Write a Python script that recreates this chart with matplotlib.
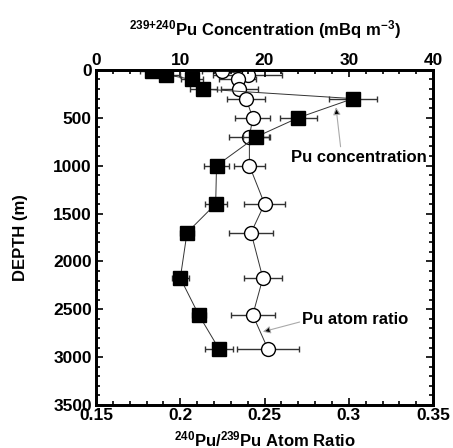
import matplotlib
matplotlib.use("Agg")
import matplotlib.pyplot as plt
from matplotlib.ticker import MultipleLocator

plt.rcParams['font.family'] = ['Liberation Sans', 'DejaVu Sans']
plt.rcParams['font.weight'] = 'bold'
plt.rcParams['mathtext.fontset'] = 'custom'
plt.rcParams['mathtext.bf'] = 'Liberation Sans:bold'
plt.rcParams['mathtext.rm'] = 'Liberation Sans:bold'
plt.rcParams['mathtext.default'] = 'bf'

# Pu concentration (top axis, mBq m-3)
conc_depth = [10, 50, 100, 200, 300, 500, 700, 1000, 1400, 1700, 2175, 2560, 2915]
conc_val = [6.7, 8.3, 11.4, 12.7, 30.5, 24.0, 19.0, 14.3, 14.2, 10.8, 10.0, 12.2, 14.6]
conc_err = [1.5, 1.7, 1.3, 1.6, 2.8, 2.2, 1.5, 1.5, 1.3, 0.85, 1.0, 0.85, 1.7]

# 240Pu/239Pu atom ratio (bottom axis)
ratio_depth = [10, 50, 100, 200, 300, 500, 700, 1000, 1400, 1700, 2175, 2560, 2915]
ratio_val = [0.225, 0.240, 0.234, 0.235, 0.239, 0.243, 0.241, 0.241, 0.250, 0.242, 0.249, 0.243, 0.252]
ratio_err = [0.012, 0.0205, 0.011, 0.011, 0.0113, 0.0104, 0.012, 0.009, 0.012, 0.013, 0.0113, 0.013, 0.0185]

FS = 12.5

fig = plt.figure(figsize=(4.53, 4.48), dpi=100)
ax = fig.add_axes([0.212, 0.096, 0.744, 0.748])

ax.errorbar(ratio_val, ratio_depth, xerr=ratio_err, fmt='none', ecolor='#333333',
            elinewidth=1.0, capsize=2.5, capthick=1.0, zorder=2)
ax.plot(ratio_val, ratio_depth, '-', color='#333333', lw=0.7, zorder=3)
ax.plot(ratio_val, ratio_depth, 'o', ms=10, mfc='white', mec='black', mew=1.0, zorder=4)

ax.set_xlim(0.15, 0.35)
ax.set_ylim(3500, 0)
ax.xaxis.set_minor_locator(MultipleLocator(0.01))
ax.yaxis.set_major_locator(MultipleLocator(500))
ax.yaxis.set_minor_locator(MultipleLocator(100))
ax.set_xticks([0.15, 0.2, 0.25, 0.3, 0.35])
ax.set_xticklabels(['0.15', '0.2', '0.25', '0.3', '0.35'])
ax.tick_params(axis='both', which='both', direction='in', top=False, right=True,
               labelsize=FS, width=1.2)
ax.tick_params(axis='x', pad=2)
ax.tick_params(axis='y', pad=3)
ax.tick_params(which='major', length=5)
ax.tick_params(which='minor', length=3)
for lab in ax.get_xticklabels() + ax.get_yticklabels():
    lab.set_fontweight('bold')
ax.set_ylabel('DEPTH (m)', fontsize=12, fontweight='bold', labelpad=18)
ax.set_xlabel(r'$^{240}$Pu/$^{239}$Pu Atom Ratio', fontsize=12,
              fontweight='bold', labelpad=4.5)
for s in ax.spines.values():
    s.set_linewidth(2.0)

ax2 = ax.twiny()
ax2.errorbar(conc_val, conc_depth, xerr=conc_err, fmt='none', ecolor='#333333',
             elinewidth=1.0, capsize=2.5, capthick=1.0, zorder=2)
ax2.plot(conc_val, conc_depth, '-', color='#333333', lw=0.7, zorder=3)
ax2.plot(conc_val, conc_depth, 's', ms=10.5, mfc='black', mec='black', zorder=4)
ax2.set_xlim(0, 40)
ax2.set_ylim(3500, 0)
ax2.xaxis.set_major_locator(MultipleLocator(10))
ax2.xaxis.set_minor_locator(MultipleLocator(2))
ax2.tick_params(axis='x', which='both', direction='in', labelsize=FS, width=1.2, pad=1)
ax2.tick_params(which='major', length=5)
ax2.tick_params(which='minor', length=3)
for lab in ax2.get_xticklabels():
    lab.set_fontweight('bold')
ax2.set_xlabel(r'$^{239{+}240}$Pu Concentration (mBq m$^{-3}$)',
               fontsize=12, fontweight='bold', labelpad=13)
for s in ax2.spines.values():
    s.set_linewidth(2.0)

# annotations (in ratio-axis data coords)
arrow = dict(arrowstyle='-|>', color='#aaaaaa', lw=0.8, shrinkA=0, shrinkB=0,
             mutation_scale=11, fc='black', ec='#aaaaaa')
ax.annotate('Pu concentration', xy=(0.2924, 390), xytext=(0.2655, 910),
            fontsize=12, fontweight='bold', ha='left', va='center',
            arrowprops=dict(arrow, relpos=(0.37, 1.0)))
ax.annotate('Pu atom ratio', xy=(0.249, 2735), xytext=(0.2725, 2610),
            fontsize=12, fontweight='bold', ha='left', va='center',
            arrowprops=dict(arrow, relpos=(0.0, 0.4)))

fig.savefig('out.png', dpi=100)
